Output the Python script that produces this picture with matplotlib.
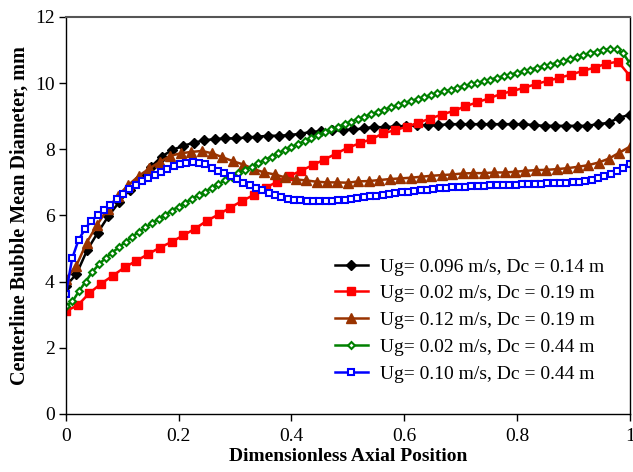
import numpy as np
import matplotlib
matplotlib.use("Agg")
import matplotlib.pyplot as plt

plt.rcParams['font.family'] = ['Liberation Serif', 'DejaVu Serif']

# Ug= 0.096 m/s, Dc = 0.14 m
black_y = [3.87, 4.23, 4.95, 5.48, 5.98, 6.40, 6.78, 7.13, 7.47, 7.78,
           7.98, 8.10, 8.20, 8.27, 8.31, 8.33, 8.33, 8.36, 8.38, 8.41,
           8.41, 8.43, 8.47, 8.52, 8.55, 8.58, 8.58, 8.60, 8.63, 8.68,
           8.66, 8.70, 8.70, 8.73, 8.73, 8.73, 8.76, 8.76, 8.76, 8.76,
           8.76, 8.76, 8.76, 8.76, 8.73, 8.71, 8.71, 8.71, 8.71, 8.71,
           8.76, 8.80, 8.96, 9.04]

# Ug= 0.02 m/s, Dc = 0.19 m
red_y = [3.11, 3.28, 3.65, 3.94, 4.18, 4.43, 4.63, 4.83, 5.03, 5.20,
         5.40, 5.60, 5.84, 6.03, 6.24, 6.44, 6.62, 6.84, 7.02, 7.19,
         7.35, 7.52, 7.69, 7.87, 8.05, 8.18, 8.31, 8.48, 8.58, 8.68,
         8.80, 8.93, 9.05, 9.16, 9.30, 9.42, 9.54, 9.67, 9.76, 9.86,
         9.97, 10.07, 10.16, 10.26, 10.37, 10.47, 10.59, 10.65, 10.22]

# Ug= 0.12 m/s, Dc = 0.19 m
brown_y = [4.07, 4.48, 5.18, 5.72, 6.20, 6.60, 6.92, 7.20, 7.42, 7.62,
           7.80, 7.88, 7.92, 7.95, 7.88, 7.76, 7.64, 7.54, 7.40, 7.30,
           7.24, 7.15, 7.09, 7.06, 7.02, 7.00, 7.00, 6.99, 7.03, 7.04,
           7.07, 7.10, 7.12, 7.14, 7.17, 7.20, 7.22, 7.24, 7.27, 7.28,
           7.28, 7.30, 7.30, 7.32, 7.35, 7.37, 7.38, 7.40, 7.43, 7.47,
           7.52, 7.60, 7.72, 7.90, 8.08]

# Ug= 0.02 m/s, Dc = 0.44 m
green_y = [3.26, 3.40, 3.72, 4.00, 4.30, 4.52, 4.72, 4.88, 5.04, 5.20,
           5.36, 5.50, 5.64, 5.77, 5.90, 6.02, 6.15, 6.27, 6.38, 6.50,
           6.62, 6.72, 6.83, 6.95, 7.06, 7.17, 7.28, 7.38, 7.48, 7.58,
           7.68, 7.78, 7.88, 7.98, 8.07, 8.16, 8.25, 8.34, 8.43, 8.51,
           8.60, 8.68, 8.76, 8.84, 8.92, 8.99, 9.06, 9.13, 9.20, 9.27,
           9.33, 9.40, 9.46, 9.52, 9.58, 9.64, 9.70, 9.75, 9.80, 9.86,
           9.91, 9.96, 10.01, 10.06, 10.11, 10.16, 10.21, 10.26, 10.31, 10.36,
           10.41, 10.46, 10.51, 10.56, 10.61, 10.66, 10.72, 10.78, 10.84, 10.90,
           10.95, 11.00, 11.03, 11.02, 10.90, 10.60]

# Ug= 0.10 m/s, Dc = 0.44 m
blue_y = [3.63, 4.70, 5.26, 5.58, 5.84, 6.00, 6.17, 6.31, 6.49, 6.64,
          6.79, 6.93, 7.04, 7.13, 7.23, 7.32, 7.41, 7.50, 7.57, 7.60,
          7.61, 7.60, 7.55, 7.44, 7.35, 7.27, 7.18, 7.09, 6.99, 6.91,
          6.83, 6.76, 6.68, 6.62, 6.55, 6.51, 6.48, 6.46, 6.44, 6.44,
          6.44, 6.44, 6.44, 6.46, 6.48, 6.50, 6.52, 6.55, 6.58, 6.60,
          6.63, 6.65, 6.67, 6.70, 6.72, 6.74, 6.76, 6.78, 6.80, 6.82,
          6.84, 6.85, 6.86, 6.87, 6.88, 6.89, 6.90, 6.91, 6.91, 6.92,
          6.93, 6.93, 6.94, 6.95, 6.95, 6.96, 6.97, 6.97, 6.97, 6.99,
          7.00, 7.02, 7.04, 7.07, 7.12, 7.18, 7.25, 7.34, 7.45, 7.57]

labels = ["Ug= 0.096 m/s, Dc = 0.14 m", "Ug= 0.02 m/s, Dc = 0.19 m",
          "Ug= 0.12 m/s, Dc = 0.19 m", "Ug= 0.02 m/s, Dc = 0.44 m",
          "Ug= 0.10 m/s, Dc = 0.44 m"]

series = [
    (black_y, dict(color='black', marker='D', ms=5, mfc='black', mew=1)),
    (red_y, dict(color='#FF0000', marker='s', ms=6, mfc='#FF0000', mew=1)),
    (brown_y, dict(color='#993300', marker='^', ms=7, mfc='#993300', mew=1)),
    (green_y, dict(color='#008000', marker='D', ms=3.5, mfc='white', mew=1.5)),
    (blue_y, dict(color='#0000FF', marker='s', ms=5, mfc='white', mew=1.5)),
]

fig = plt.figure(figsize=(6.33, 4.72), dpi=100)
ax = fig.add_axes([0.104, 0.123, 0.891, 0.841])

for (y, style), lab in zip(series, labels):
    x = np.linspace(0, 1, len(y))
    ax.plot(x, y, lw=1.8, label=lab, **style)

ax.set_xlim(0, 1)
ax.set_ylim(0, 12)
ax.set_xticks([0, 0.2, 0.4, 0.6, 0.8, 1])
ax.set_xticklabels(["0", "0.2", "0.4", "0.6", "0.8", "1"])
ax.set_yticks(range(0, 13, 2))
ax.tick_params(direction='out', length=5, width=1, labelsize=14, colors='black')
ax.tick_params(axis='x', pad=5)
ax.tick_params(axis='y', pad=3)

for side in ['left', 'bottom', 'right']:
    ax.spines[side].set_color('black')
    ax.spines[side].set_linewidth(1)
ax.spines['top'].set_color('#555555')
ax.spines['top'].set_linewidth(1.5)

ax.set_xlabel("Dimensionless Axial Position", fontsize=14, fontweight='bold', labelpad=2)
ax.set_ylabel("Centerline Bubble Mean Diameter, mm", fontsize=14.5, fontweight='bold', labelpad=4)

ax.legend(loc='lower right', bbox_to_anchor=(0.985, 0.035), frameon=False, fontsize=14,
          handlelength=1.7, labelspacing=0.47, handletextpad=0.6)

fig.savefig("out.png", dpi=100)
